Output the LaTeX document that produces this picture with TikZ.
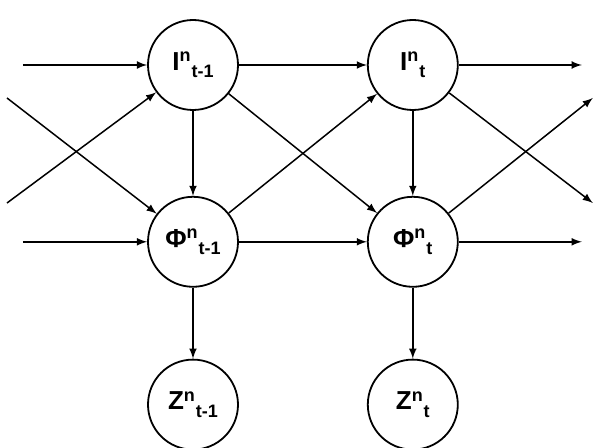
\documentclass[tikz,border=0pt]{standalone}
\usepackage{fontspec}
\setmainfont{Liberation Sans}
\usetikzlibrary{positioning}
\usetikzlibrary{arrows}

\newcommand{\varlabel}[2]{#1\textsuperscript{\fontsize{9}{10}\selectfont n}\raisebox{-0.55ex}{\fontsize{9}{10}\selectfont #2}}

\begin{document}
\begin{tikzpicture} [node distance=64pt, auto, >=latex,
	var/.style={circle, draw, line width=0.9pt, minimum size=45pt, inner sep=0pt, font=\fontsize{13}{15}\selectfont\bfseries},
	link/.style={-latex, line width=0.75pt}]

\useasboundingbox (-96.5pt,32.5pt) rectangle (200pt,-191.5pt);

\node [var] 	(i1) at (0,0)			{\varlabel{I}{t-1}};
\node [var] 	(i2) [right=of i1]		{\varlabel{I}{t}};
\node [var]		(p1) [below=42.5pt of i1]	{\varlabel{Φ}{t-1}};
\node [var]		(p2) [below=42.5pt of i2]	{\varlabel{Φ}{t}};
\node [var]		(z1) [below=35.5pt of p1]	{\varlabel{Z}{t-1}};
\node [var]		(z2) [below=35.5pt of p2]	{\varlabel{Z}{t}};

% loose ends
\coordinate [left=85pt of i1.center] 			(inI);
\coordinate [left=85pt of p1.center] 			(inP);
\coordinate [below left=16.5pt and 93pt of i1.center]	(inX);
\coordinate [below left=69pt and 93pt of i1.center]	(inY);
\coordinate [right=84.5pt of i2.center] 		(outI);
\coordinate [right=84.5pt of p2.center] 		(outP);
\coordinate [below right=16.5pt and 90pt of i2.center]	(outY);
\coordinate [below right=69pt and 90pt of i2.center]	(outX);

\path[link]
		(inI)	edge	(i1)
		(inP)	edge	(p1)
		(inX)	edge	(p1)
		(inY)	edge	(i1)
		(i1)	edge	(i2)
			edge	(p1)
			edge	(p2)
		(p1)	edge	(p2)
			edge	(i2)
			edge	(z1)
		(i2)	edge	(p2)
			edge	(outI)
			edge	(outX)
		(p2)	edge	(z2)
			edge	(outP)
			edge	(outY)
		;

\end{tikzpicture}
\end{document}
